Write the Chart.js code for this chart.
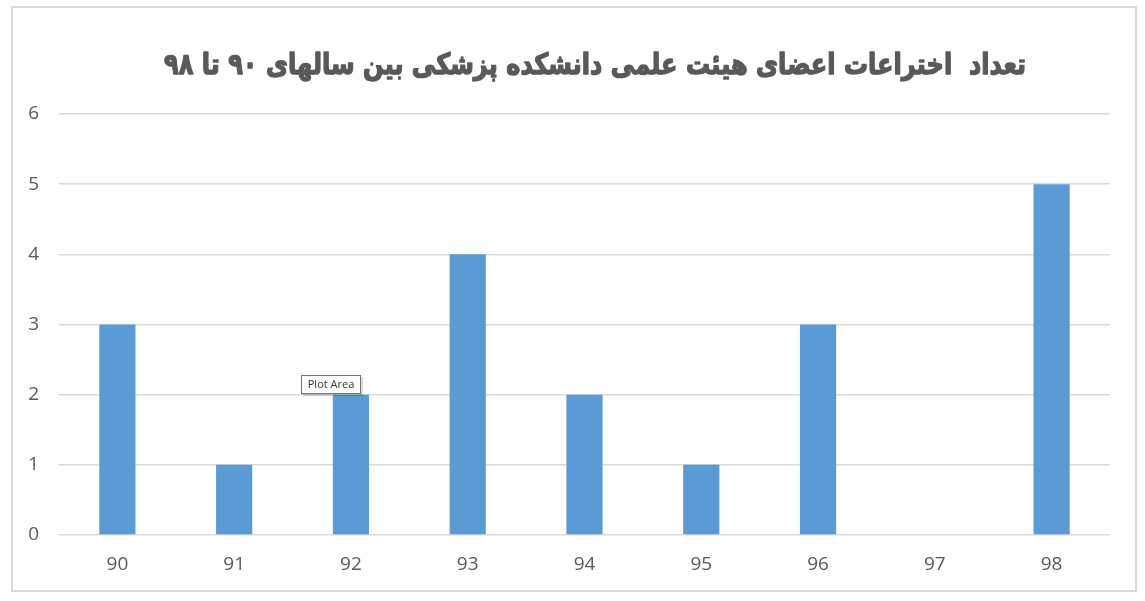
<html lang="fa">

<head>
    <meta charset="UTF-8">
    <title>تعداد اختراعات</title>
    <script src="https://cdn.jsdelivr.net/npm/chart.js"></script>
    <style>
        body { margin: 0; background: #ffffff; }
    </style>
</head>

<body>
    <canvas id="myChart" width="1145" height="601"></canvas>

    <script>
        // سالها و تعداد اختراعات
        let years = ['90', '91', '92', '93', '94', '95', '96', '97', '98'];
        let inventions = [3, 1, 2, 4, 2, 1, 3, 0, 5];
        let yTicks = [0, 1, 2, 3, 4, 5, 6];
        let chartTitle = 'تعداد  اختراعات اعضای هیئت علمی دانشکده پزشکی بین سالهای ۹۰ تا ۹۸';

        // قاب دور نمودار، عنوان و برچسب Plot Area
        const frame = {
            id: 'frame',
            beforeDraw(chart) {
                let c = chart.ctx;
                c.save();
                c.fillStyle = '#ffffff';
                c.fillRect(0, 0, chart.width, chart.height);
                c.strokeStyle = '#d9d9d9';
                c.lineWidth = 2;
                c.strokeRect(12, 7, 1124, 584);

                // عنوان: کمی فشرده تا پهنای آن مثل نمونه شود
                c.fillStyle = '#595959';
                c.strokeStyle = '#595959';
                c.lineWidth = 1.4;
                c.lineJoin = 'round';
                c.font = 'bold 29px "DejaVu Sans"';
                c.textAlign = 'center';
                c.textBaseline = 'middle';
                c.direction = 'rtl';
                let w = c.measureText(chartTitle).width;
                let sx = Math.min(1, 862 / w);
                c.translate(595, 66);
                c.scale(sx, 1);
                c.fillText(chartTitle, 0, 0);
                c.strokeText(chartTitle, 0, 0);
                c.restore();
            },
            afterDraw(chart) {
                let c = chart.ctx;
                let x = chart.chartArea.left + 242, y = chart.chartArea.top + 261;
                c.save();
                c.fillStyle = 'rgba(0,0,0,0.15)';
                c.fillRect(x + 2, y + 2, 60, 19);
                c.fillStyle = '#ffffff';
                c.fillRect(x, y, 60, 19);
                c.strokeStyle = '#767676';
                c.lineWidth = 1;
                c.strokeRect(x + 0.5, y + 0.5, 59, 18);
                c.fillStyle = '#333333';
                c.font = '11px "Open Sans", sans-serif';
                c.textBaseline = 'middle';
                c.textAlign = 'center';
                c.fillText('Plot Area', x + 30, y + 10);
                c.restore();
            }
        };

        let ctx = document.getElementById('myChart').getContext('2d');
        let myChart = new Chart(ctx, {
            type: 'bar',
            data: {
                labels: years,
                datasets: [{
                    data: inventions,
                    backgroundColor: '#5b9bd5',
                    barPercentage: 0.31,
                    categoryPercentage: 1
                }]
            },
            options: {
                responsive: false,
                animation: false,
                layout: { padding: { top: 114, left: 14, right: 35, bottom: 10 } },
                plugins: {
                    legend: { display: false },
                    tooltip: { enabled: false },
                    title: { display: false }
                },
                scales: {
                    x: {
                        grid: { display: false, drawTicks: false },
                        border: { display: false },
                        ticks: { color: '#595959', padding: 18, font: { family: '"Open Sans"', size: 19 } },
                        afterFit(s) { s.height = 56; }
                    },
                    y: {
                        min: 0,
                        max: 6,
                        afterBuildTicks(s) { s.ticks = yTicks.map(v => ({ value: v })); },
                        grid: { color: '#d9d9d9', lineWidth: 1.5, drawTicks: false },
                        border: { display: false },
                        ticks: { color: '#595959', padding: 20, font: { family: '"Open Sans"', size: 19 } },
                        afterFit(s) { s.width = 45; }
                    }
                }
            },
            plugins: [frame]
        });
    </script>
</body>

</html>
